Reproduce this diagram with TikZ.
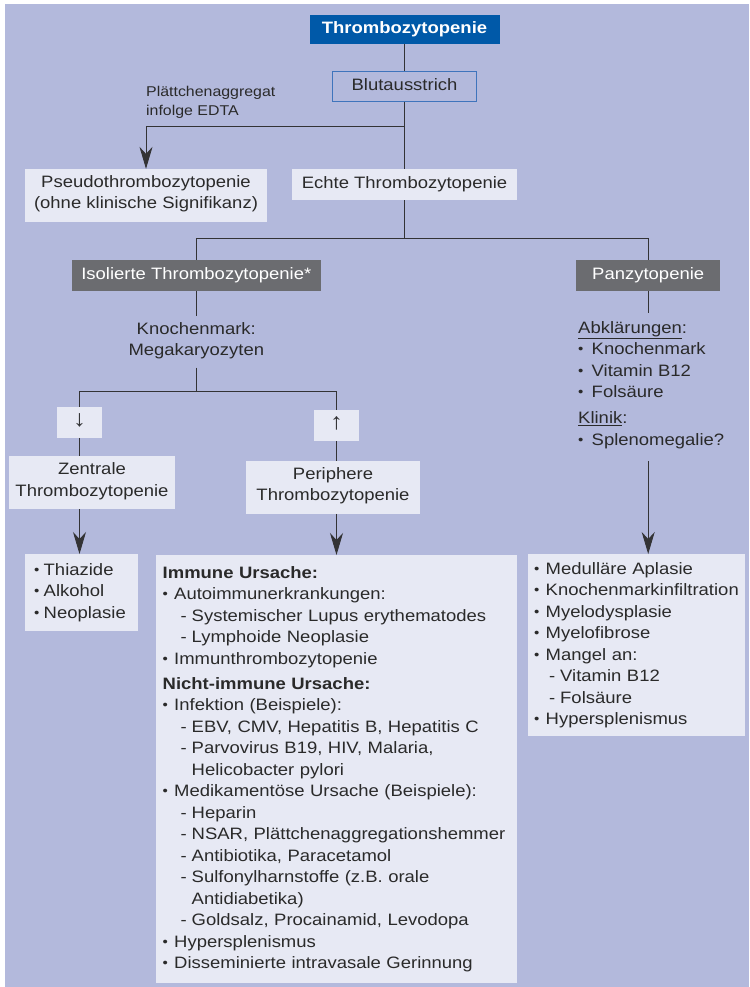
\documentclass[tikz,border=0pt]{standalone}
\usepackage{fontspec}
\setmainfont[FakeStretch=1.12]{Liberation Sans}
\usetikzlibrary{arrows.meta}

\definecolor{bgviolet}{HTML}{B3B9DC}
\definecolor{boxlight}{HTML}{E7E9F4}
\definecolor{boxdark}{HTML}{6B6C70}
\definecolor{titleblue}{HTML}{0059A8}
\definecolor{frameblue}{HTML}{3F74BC}
\definecolor{linegray}{HTML}{333335}
\definecolor{textgray}{HTML}{2A2A2A}

\newcommand{\basefont}{\fontsize{16.5}{21.5}\selectfont}
\newcommand{\dotmark}{\raisebox{0.8pt}{\fontsize{13.5}{13.5}\selectfont•}}
\newcommand{\bul}[2][11.5pt]{\makebox[#1][l]{\dotmark}#2}
\newcommand{\dsh}[2][18pt]{\hspace*{#1}\makebox[11pt][l]{-}#2}
\newcommand{\cont}[1]{\hspace*{29pt}#1}

\tikzset{
  lightbox/.style={fill=boxlight, align=center},
  darkbox/.style={fill=boxdark, text=white, align=center},
  listbox/.style={fill=boxlight, align=left, anchor=north west},
  signbox/.style={fill=boxlight, text=linegray, minimum width=45pt, minimum height=31pt, font=\fontsize{23}{21.5}\selectfont},
  link/.style={draw=linegray, line width=0.9pt},
  pointer/.style={link, -{Stealth[length=22pt, width=13pt, inset=7pt]}},
}

\begin{document}
\begin{tikzpicture}[x=1pt, y=-1pt,
  every node/.style={text=textgray, inner sep=0pt, font=\basefont,
    execute at begin node=\strut, execute at end node=\strut}]
  % background
  \fill[bgviolet] (4.5,4.5) rectangle (749,987);
  \useasboundingbox (0,0) rectangle (749,987);

  % top of the tree
  \node[fill=titleblue, text=white, font=\basefont\bfseries, minimum width=190pt, minimum height=28.7pt] (titel) at (404.5,29.3) {Thrombozytopenie};
  \node[draw=frameblue, line width=1.2pt, minimum width=144.7pt, minimum height=30pt] (blut) at (404.5,86.3) {Blutausstrich};
  \node[anchor=south west, align=left, font=\fontsize{14.2}{18.5}\selectfont] (edta) at (146,121) {Plättchenaggregat\\infolge EDTA};
  \node[lightbox, minimum width=242pt, minimum height=52.7pt] (pseudo) at (146,195.4) {Pseudothrombozytopenie\\(ohne klinische Signifikanz)};
  \node[lightbox, minimum width=225.5pt, minimum height=31pt] (echte) at (404.5,184.5) {Echte Thrombozytopenie};

  % isolated / pancytopenia
  \node[darkbox, minimum width=248.6pt, minimum height=31pt] (isol) at (196.3,275.5) {Isolierte Thrombozytopenie*};
  \node[darkbox, minimum width=144.5pt, minimum height=31pt] (panz) at (648.2,275.5) {Panzytopenie};
  \node[align=center, inner ysep=5.5pt] (knoch) at (196.3,342) {Knochenmark:\\Megakaryozyten};
  \node[signbox] (runter) at (79.5,422.2) {↓};
  \node[signbox] (hoch) at (336.5,425.4) {↑};
  \node[lightbox, minimum width=166pt, minimum height=53pt] (zentr) at (92,482.5) {Zentrale\\Thrombozytopenie};
  \node[lightbox, minimum width=174pt, minimum height=52.7pt] (periph) at (333,487.4) {Periphere\\Thrombozytopenie};
  \node[anchor=north west, align=left] (abkl) at (578,321) {\underline{Abklärungen}:\\\bul[13.5pt]{Knochenmark}\\\bul[13.5pt]{Vitamin B12}\\\bul[13.5pt]{Folsäure}\\[4.5pt]\underline{Klinik}:\\\bul[13.5pt]{Splenomegalie?}};

  % cause lists
  \node[listbox, text width=95pt, inner xsep=9pt, inner ysep=6pt] (thia) at (25,554) {\bul[9.5pt]{Thiazide}\\\bul[9.5pt]{Alkohol}\\\bul[9.5pt]{Neoplasie}};
  \node[listbox, text width=347.5pt, inner xsep=6.5pt, inner ysep=8pt] (immun) at (156,555) {%
    \textbf{Immune Ursache:}\\
    \bul{Autoimmunerkrankungen:}\\
    \dsh{Systemischer Lupus erythematodes}\\
    \dsh{Lymphoide Neoplasie}\\
    \bul{Immunthrombozytopenie}\\[3.5pt]
    \textbf{Nicht-immune Ursache:}\\
    \bul{Infektion (Beispiele):}\\
    \dsh{EBV, CMV, Hepatitis B, Hepatitis C}\\
    \dsh{Parvovirus B19, HIV, Malaria,}\\
    \cont{Helicobacter pylori}\\
    \bul{Medikamentöse Ursache (Beispiele):}\\
    \dsh{Heparin}\\
    \dsh{NSAR, Plättchenaggregationshemmer}\\
    \dsh{Antibiotika, Paracetamol}\\
    \dsh{Sulfonylharnstoffe (z.B. orale}\\
    \cont{Antidiabetika)}\\
    \dsh{Goldsalz, Procainamid, Levodopa}\\
    \bul{Hypersplenismus}\\
    \bul{Disseminierte intravasale Gerinnung}};
  \node[listbox, text width=205pt, inner xsep=6pt, inner ysep=4.9pt] (medul) at (528,554) {%
    \bul{Medulläre Aplasie}\\
    \bul{Knochenmarkinfiltration}\\
    \bul{Myelodysplasie}\\
    \bul{Myelofibrose}\\
    \bul{Mangel an:}\\
    \dsh[15pt]{Vitamin B12}\\
    \dsh[15pt]{Folsäure}\\
    \bul{Hypersplenismus}};

  % branch points
  \coordinate (split1) at (404.5,126.7);
  \coordinate (split2) at (404.5,238.7);
  \coordinate (split3) at (196.3,391);
  \coordinate (abkltop) at (648.2,313);
  \coordinate (abklbot) at (648.2,461);

  % connectors
  \draw[link] (titel) -- (blut);
  \draw[link] (blut) -- (echte);
  \draw[pointer] (split1) -| (pseudo.north);
  \draw[link] (echte) -- (split2);
  \draw[link] (split2) -| (isol);
  \draw[link] (split2) -| (panz);
  \draw[link] (isol) -- (knoch);
  \draw[link] (knoch) -- (split3);
  \draw[link] (split3) -| (runter);
  \draw[link] (split3) -| (hoch);
  \draw[link] (runter) -- (runter |- zentr.north);
  \draw[link] (hoch) -- (hoch |- periph.north);
  \draw[pointer] (runter |- zentr.south) -- (runter |- thia.north);
  \draw[pointer] (hoch |- periph.south) -- (hoch |- immun.north);
  \draw[link] (panz) -- (abkltop);
  \draw[pointer] (abklbot) -- (abklbot |- medul.north);
\end{tikzpicture}
\end{document}
